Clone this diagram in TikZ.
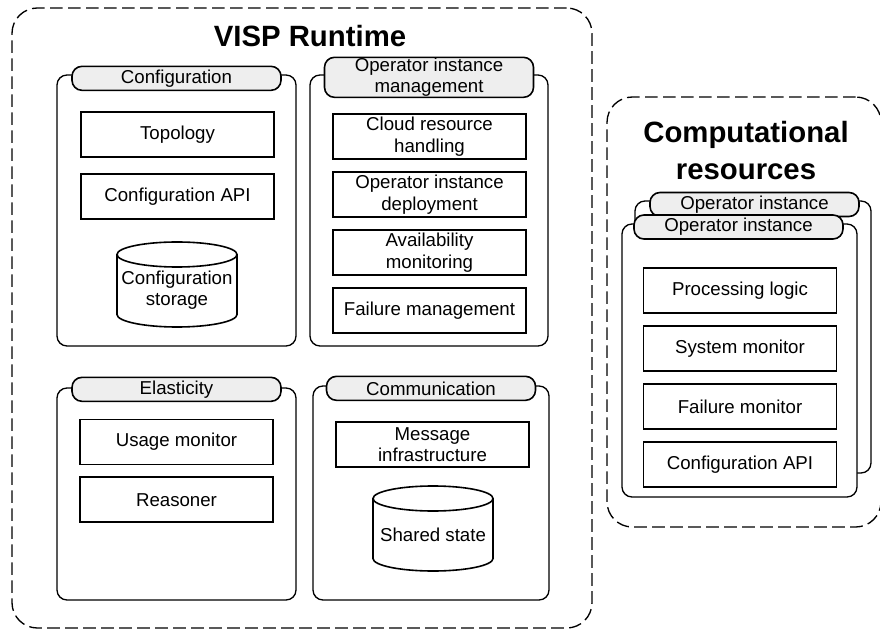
\documentclass[tikz,border=0pt]{standalone}
\usepackage{fontspec}
\setmainfont{Liberation Sans}
\usetikzlibrary{positioning}
\definecolor{tabgray}{HTML}{EEEEEE}
\tikzset{
  area/.style 2 args={draw, dash pattern=on 9.5pt off 4pt, line width=1pt,
    rounded corners=19pt, minimum width=#1*0.75pt, minimum height=#2*0.75pt, inner sep=0pt},
  panel/.style 2 args={draw, fill=white, line width=1pt, rounded corners=7.5pt,
    minimum width=#1*0.75pt, minimum height=#2*0.75pt, inner sep=0pt},
  tab/.style={draw, fill=tabgray, line width=1.2pt, rounded corners=7.5pt,
    minimum width=156.75pt, minimum height=18pt, inner sep=0pt, align=center},
  part/.style={draw, line width=1.3pt, minimum width=144.75pt, minimum height=33.75pt,
    inner sep=0pt, align=center},
  storetext/.style={inner sep=0pt, align=center},
  title/.style={font=\fontsize{22}{27.75}\selectfont\bfseries, align=center}
}
% storage drum, centred at (#1,#2), 120 x 85
\newcommand{\drum}[2]{%
  \draw[line width=1.2pt] (#1-60,#2-30) -- (#1-60,#2+30)
    arc[start angle=180, end angle=0, x radius=60, y radius=12.5] -- (#1+60,#2-30);
  \draw[line width=1.2pt] (#1,#2-30) ellipse[x radius=60, y radius=12.5];
}

\begin{document}
\begin{tikzpicture}[x=0.75pt, y=-0.75pt, node distance=9.75pt,
  every node/.append style={font=\fontsize{14}{16.1}\selectfont}]
\useasboundingbox (0,0) rectangle (880,630);
% dashed areas
\node[area={580}{620}] (visp) at (302,318) {};
\node[area={274}{430}] (comp) at (744,312) {};
\node[title, anchor=base] (visp-title) at (310,47) {VISP Runtime};
\node[title, anchor=base] (comp-title) at (746,180) {Computational\\resources};
% configuration
\node[panel={239}{271}] (cfg) at (176.5,210.5) {};
\node[tab] (cfg-tab) at ([yshift=-3pt]cfg.north) {Configuration};
\node[part] (topo) at (177.5,134.5) {Topology};
\node[part, below=11.25pt of topo] (cfg-api) {Configuration API};
\drum{177}{284.5}
\node[storetext] (cfg-store) at (177,290) {Configuration\\storage};
% operator instance management
\node[panel={238}{271}] (oim) at (429,210.5) {};
\node[tab, minimum height=30pt] (oim-tab) at ([yshift=-2.25pt]oim.north) {Operator instance\\management};
\foreach \lbl [count=\k] in {Cloud resource\\handling, Operator instance\\deployment,
    Availability\\monitoring, Failure management}
  \node[part] (oim-\k) at (429.5,78.5+58*\k) {\lbl};
% elasticity
\node[panel={239}{212}] (ela) at (176.5,494) {};
\node[tab] (ela-tab) at ([yshift=-1.5pt]ela.north) {Elasticity};
\node[part] (usage) at (176.5,442) {Usage monitor};
\node[part, below=8.25pt of usage] (reason) {Reasoner};
% communication
\node[panel={236}{214}] (com) at (431,493) {};
\node[tab] (com-tab) at ([yshift=-2.25pt]com.north) {Communication};
\node[part] (msg) at (432.5,444.5) {Message\\infrastructure};
\drum{433}{528.5}
\node[storetext] (shared) at (433,535) {Shared state};
% operator instances
\node[panel={236}{272}] (op-back) at (753,337) {};
\node[tab] (op-back-tab) at (754.5,204.5) {Operator instance};
\node[panel={235}{273}] (op) at (739.5,360.5) {};
\node[tab] (op-tab) at (738.5,227) {Operator instance};
\foreach \lbl [count=\k] in {Processing logic, System monitor, Failure monitor, Configuration API}
  \node[part] (op-\k) at (740,232.5+58*\k) {\lbl};
\end{tikzpicture}
\end{document}
